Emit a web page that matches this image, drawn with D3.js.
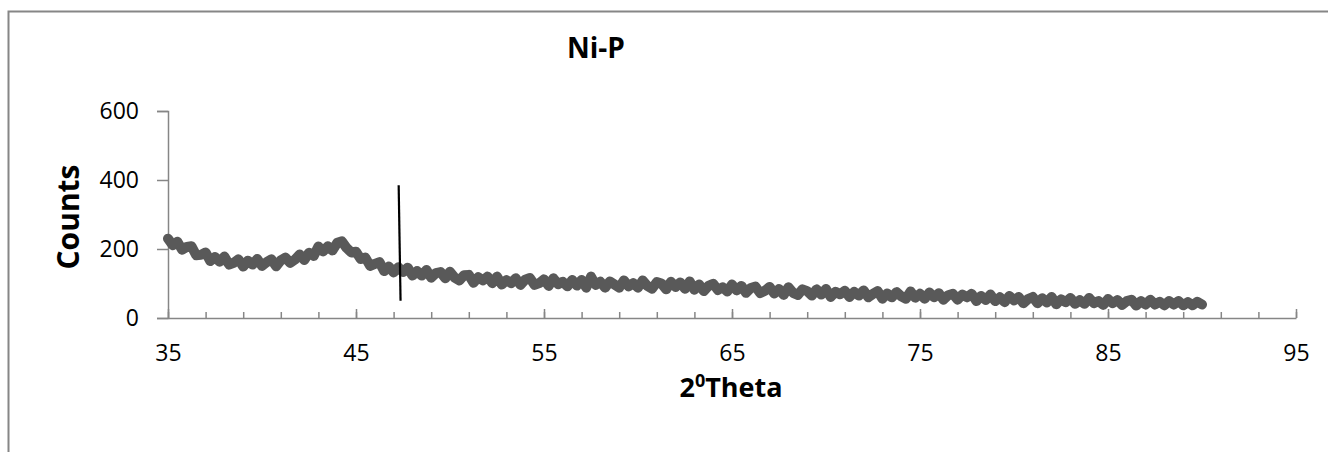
<!DOCTYPE html>
<html>
<head>
<meta charset="utf-8">
<script src="https://cdn.jsdelivr.net/npm/d3@7"></script>
<style>
  body { margin: 0; background: #fff; }
  text { font-family: "Open Sans", sans-serif; fill: #000; }
</style>
</head>
<body>
<svg id="chart" width="1328" height="452"></svg>
<script>
// XRD scan, 2theta from 35 to 90 in 0.25 deg steps
const thetaStart = 35;
const thetaStep = 0.25;
const counts = [
  230, 211, 221, 198, 206, 208, 182, 183, 190, 165, 177, 163, 178, 155, 160, 170,
  149, 166, 155, 171, 151, 162, 170, 150, 167, 175, 160, 169, 184, 168, 189, 180,
  207, 193, 208, 196, 218, 222, 203, 190, 192, 171, 175, 151, 157, 162, 136, 149,
  132, 147, 133, 146, 123, 136, 123, 139, 117, 130, 133, 115, 134, 117, 109, 124,
  125, 102, 118, 109, 120, 101, 120, 97, 110, 101, 115, 96, 111, 116, 96, 101,
  112, 93, 115, 98, 105, 92, 110, 94, 110, 88, 120, 96, 105, 88, 106, 97,
  88, 109, 92, 101, 88, 109, 93, 85, 104, 100, 83, 105, 90, 103, 85, 106,
  82, 97, 78, 93, 99, 81, 89, 77, 97, 80, 93, 73, 87, 91, 72, 79,
  90, 71, 84, 67, 89, 73, 67, 83, 78, 65, 83, 68, 84, 61, 76, 69,
  79, 61, 76, 65, 80, 60, 70, 78, 56, 71, 60, 75, 63, 56, 77, 59,
  70, 56, 74, 60, 72, 53, 66, 70, 53, 68, 60, 70, 49, 64, 52, 68,
  49, 60, 46, 64, 51, 61, 43, 55, 61, 43, 57, 45, 61, 40, 54, 46,
  58, 41, 52, 41, 58, 43, 49, 38, 55, 43, 52, 38, 49, 53, 36, 49,
  39, 53, 39, 47, 37, 49, 39, 49, 37, 46, 37, 47, 39
];
// the hand-drawn black marker line
const markerLine = [
  { theta: 47.27, count: 385 },
  { theta: 47.37, count: 50 }
];

const xMajor = [35, 45, 55, 65, 75, 85, 95];
const xMinor = d3.range(35, 95.01, 2);
const yTicks = [0, 200, 400, 600];

const title = "Ni-P";
const yTitle = "Counts";

const svg = d3.select("#chart");
const margin = { left: 168, right: 1296, top: 111, bottom: 318 };

const x = d3.scaleLinear().domain([35, 95]).range([margin.left, margin.right]);
const y = d3.scaleLinear().domain([0, 600]).range([margin.bottom, margin.top]);

const axisColor = "#868686";

// outer chart frame (cropped at right and bottom)
svg.append("rect")
  .attr("x", 8.5).attr("y", 11.5)
  .attr("width", 1340).attr("height", 460)
  .attr("fill", "none")
  .attr("stroke", axisColor)
  .attr("stroke-width", 2);

// y axis
const yAxis = d3.axisLeft(y).tickValues(yTicks).tickSize(11).tickPadding(18);
const gy = svg.append("g").attr("transform", "translate(" + margin.left + ",0)").call(yAxis);
gy.select(".domain").attr("stroke", axisColor).attr("stroke-width", 1.5);
gy.selectAll(".tick line").attr("stroke", axisColor).attr("stroke-width", 1.5);
gy.selectAll(".tick text")
  .style("font-family", "'Open Sans', sans-serif")
  .style("font-size", "23px")
  .attr("fill", "#000");

// x axis: minor ticks first, then the major ones with labels
const gxMinor = svg.append("g")
  .attr("transform", "translate(0," + margin.bottom + ")")
  .call(d3.axisBottom(x).tickValues(xMinor).tickSize(-6).tickFormat(""));
gxMinor.select(".domain").remove();
gxMinor.selectAll(".tick line").attr("stroke", axisColor).attr("stroke-width", 1.5);

const gx = svg.append("g")
  .attr("transform", "translate(0," + margin.bottom + ")")
  .call(d3.axisBottom(x).tickValues(xMajor).tickSize(-9).tickPadding(27).tickSizeOuter(0));
gx.select(".domain").attr("stroke", axisColor).attr("stroke-width", 1.5);
gx.selectAll(".tick line").attr("stroke", axisColor).attr("stroke-width", 1.5);
gx.selectAll(".tick text")
  .style("font-family", "'Open Sans', sans-serif")
  .style("font-size", "23px")
  .attr("fill", "#000");

// data trace
const line = d3.line()
  .x(function(d, i) { return x(thetaStart + i * thetaStep); })
  .y(function(d) { return y(d); });

svg.append("path")
  .datum(counts)
  .attr("d", line)
  .attr("fill", "none")
  .attr("stroke", "#595959")
  .attr("stroke-width", 10)
  .attr("stroke-linejoin", "round")
  .attr("stroke-linecap", "round");

svg.append("path")
  .datum(markerLine)
  .attr("d", d3.line().x(function(d) { return x(d.theta); }).y(function(d) { return y(d.count); }))
  .attr("stroke", "#000")
  .attr("stroke-width", 2.2);

// titles
svg.append("text")
  .attr("x", 596).attr("y", 58)
  .attr("text-anchor", "middle")
  .style("font-size", "28px")
  .style("font-weight", "bold")
  .text(title);

svg.append("text")
  .attr("transform", "translate(79,217) rotate(-90)")
  .attr("text-anchor", "middle")
  .style("font-size", "30px")
  .style("font-weight", "bold")
  .text(yTitle);

const xt = svg.append("text")
  .attr("x", 731).attr("y", 397)
  .attr("text-anchor", "middle")
  .style("font-size", "27px")
  .style("font-weight", "bold");
xt.append("tspan").text("2");
xt.append("tspan").attr("dy", -10).style("font-size", "18px").text("0");
xt.append("tspan").attr("dy", 10).text("Theta");
</script>
</body>
</html>
